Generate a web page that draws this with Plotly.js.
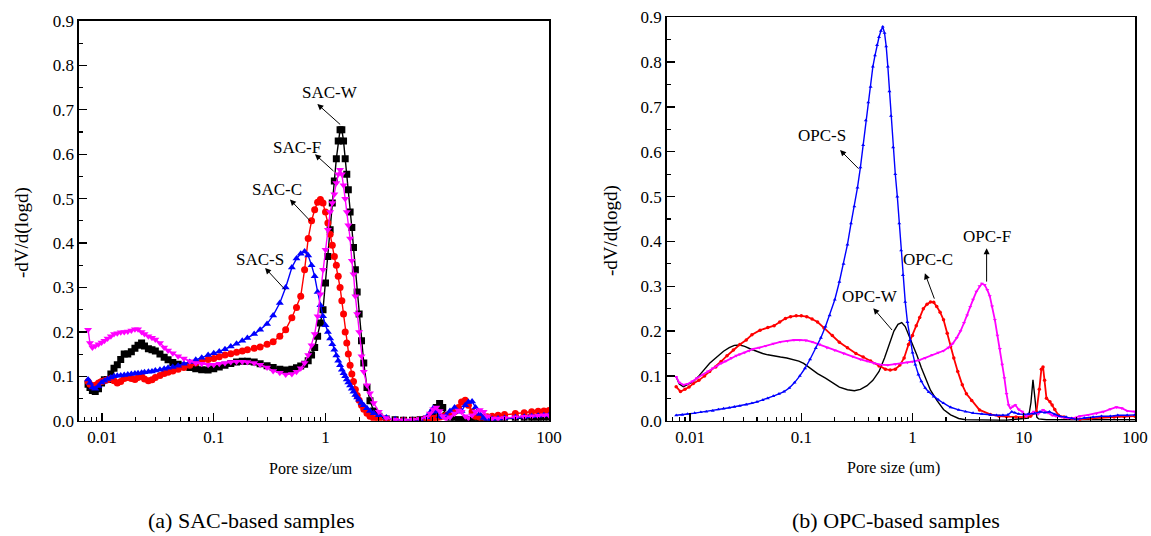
<!DOCTYPE html>
<html>
<head>
<meta charset="utf-8">
<script src="https://cdn.plot.ly/plotly-3.0.1.min.js"></script>
<style>html,body{margin:0;padding:0;background:#fff;}#chart{width:1151px;height:536px;}</style>
</head>
<body>
<div id="chart"></div>
<script>
// ---------- Panel (a): SAC-based samples (shared pore-size grid, um) ----------
const sacX = [
 0.0075,0.0078,0.0082,0.0087,0.0093,0.0099,0.0105,0.0112,0.012,0.0128,
 0.0137,0.0147,0.0158,0.017,0.0183,0.0197,0.021,0.0226,0.024,0.026,
 0.028,0.030,0.033,0.036,0.039,0.043,0.048,0.054,0.061,0.069,
 0.078,0.089,0.1,0.112,0.126,0.142,0.16,0.18,0.2,0.23,
 0.26,0.3,0.34,0.39,0.44,0.5,0.55,0.6,0.65,0.7,
 0.75,0.8,0.85,0.9,0.95,1.0,1.05,1.1,1.15,1.2,
 1.25,1.3,1.35,1.4,1.45,1.5,1.55,1.6,1.66,1.72,
 1.78,1.85,1.92,2.0,2.1,2.2,2.35,2.5,2.7,3.0,
 3.5,4.2,5,6,7,8,8.6,9.2,9.8,10.5,
 11.2,12,13,14.3,15.5,16.5,17.8,19,20.5,22,
 24,26,28,31,35,40,50,60,70,80,
 90,100];
const sacW = [
 0.082,0.075,0.068,0.066,0.072,0.085,0.092,0.093,0.105,0.118,
 0.126,0.138,0.15,0.15,0.155,0.163,0.17,0.175,0.168,0.162,
 0.16,0.157,0.15,0.143,0.137,0.131,0.127,0.123,0.12,0.117,
 0.115,0.114,0.117,0.121,0.125,0.129,0.132,0.134,0.134,0.132,
 0.128,0.124,0.12,0.116,0.114,0.116,0.119,0.123,0.127,0.135,
 0.148,0.165,0.19,0.22,0.25,0.31,0.37,0.43,0.49,0.54,
 0.59,0.63,0.655,0.655,0.63,0.59,0.555,0.52,0.47,0.435,
 0.39,0.34,0.29,0.24,0.18,0.13,0.075,0.045,0.022,0.01,
 0.004,0.002,0.001,0.001,0.002,0.004,0.008,0.018,0.03,0.039,
 0.03,0.012,0.004,0.002,0.002,0.002,0.002,0.002,0.002,0.003,
 0.003,0.003,0.003,0.004,0.004,0.005,0.005,0.006,0.007,0.007,
 0.008,0.008];
const sacC = [
 0.088,0.082,0.078,0.08,0.085,0.088,0.09,0.092,0.095,0.09,
 0.085,0.088,0.095,0.097,0.095,0.093,0.097,0.1,0.094,0.09,
 0.092,0.097,0.102,0.106,0.109,0.112,0.116,0.12,0.125,0.13,
 0.134,0.138,0.14,0.144,0.148,0.151,0.154,0.157,0.16,0.163,
 0.166,0.172,0.178,0.19,0.205,0.232,0.255,0.28,0.34,0.41,
 0.45,0.475,0.492,0.498,0.49,0.47,0.445,0.42,0.395,0.37,
 0.35,0.325,0.3,0.27,0.24,0.2,0.175,0.15,0.125,0.105,
 0.088,0.07,0.057,0.046,0.035,0.026,0.017,0.01,0.005,0.003,
 0.002,0.001,0.001,0.001,0.002,0.003,0.004,0.005,0.006,0.008,
 0.01,0.012,0.015,0.02,0.03,0.042,0.046,0.035,0.02,0.01,
 0.008,0.008,0.009,0.01,0.012,0.014,0.016,0.018,0.02,0.021,
 0.022,0.023];
const sacS = [
 0.093,0.085,0.075,0.072,0.078,0.086,0.09,0.094,0.097,0.1,
 0.101,0.102,0.103,0.104,0.105,0.106,0.107,0.108,0.109,0.11,
 0.111,0.113,0.115,0.117,0.119,0.121,0.124,0.128,0.132,0.137,
 0.142,0.148,0.152,0.156,0.161,0.167,0.173,0.18,0.186,0.195,
 0.205,0.218,0.237,0.265,0.3,0.345,0.365,0.376,0.381,0.372,
 0.35,0.325,0.29,0.26,0.235,0.215,0.2,0.185,0.172,0.16,
 0.147,0.135,0.125,0.115,0.107,0.1,0.093,0.086,0.079,0.072,
 0.065,0.058,0.052,0.047,0.04,0.035,0.028,0.022,0.017,0.012,
 0.007,0.003,0.002,0.002,0.003,0.008,0.018,0.028,0.02,0.01,
 0.008,0.012,0.022,0.03,0.02,0.022,0.035,0.042,0.043,0.03,
 0.015,0.006,0.004,0.004,0.005,0.006,0.008,0.009,0.01,0.011,
 0.012,0.012];
const sacF = [
 0.205,0.175,0.165,0.168,0.172,0.176,0.18,0.185,0.19,0.195,
 0.197,0.199,0.2,0.201,0.203,0.206,0.206,0.2,0.195,0.19,
 0.187,0.183,0.175,0.165,0.158,0.152,0.145,0.14,0.134,0.13,
 0.128,0.126,0.126,0.128,0.13,0.132,0.133,0.133,0.132,0.13,
 0.126,0.12,0.112,0.108,0.104,0.105,0.11,0.118,0.13,0.148,
 0.17,0.195,0.235,0.285,0.34,0.385,0.43,0.47,0.49,0.51,
 0.535,0.555,0.565,0.555,0.53,0.5,0.47,0.44,0.41,0.36,
 0.33,0.28,0.24,0.2,0.145,0.11,0.08,0.062,0.04,0.02,
 0.006,0.002,0.001,0.002,0.004,0.008,0.016,0.026,0.03,0.022,
 0.01,0.004,0.008,0.016,0.023,0.02,0.01,0.006,0.012,0.02,
 0.024,0.02,0.01,0.005,0.005,0.006,0.008,0.009,0.01,0.011,
 0.012,0.012];

// ---------- Panel (b): OPC-based samples ----------
const opcSx = [
 0.0075,0.0085,0.0095,0.011,0.0125,0.014,0.016,0.018,0.02,0.0225,
 0.025,0.028,0.032,0.036,0.04,0.045,0.05,0.056,0.063,0.07,
 0.078,0.087,0.097,0.108,0.12,0.135,0.15,0.165,0.18,0.2,
 0.22,0.24,0.26,0.28,0.3,0.32,0.34,0.36,0.38,0.4,
 0.42,0.44,0.46,0.48,0.5,0.52,0.54,0.56,0.58,0.6,
 0.62,0.64,0.67,0.7,0.73,0.76,0.79,0.82,0.86,0.9,
 0.95,1.0,1.06,1.13,1.2,1.3,1.4,1.55,1.7,1.9,
 2.2,2.6,3,3.5,4.2,5,5.7,6.5,7.2,7.8,
 8.3,9,10,11,12.5,14,15.5,17,19,21,
 24,27,30,35,42,50,60,70,85,100];
const opcSy = [
 0.012,0.013,0.015,0.017,0.019,0.02,0.022,0.025,0.027,0.029,
 0.031,0.033,0.036,0.039,0.042,0.046,0.05,0.055,0.06,0.065,
 0.073,0.085,0.1,0.117,0.137,0.162,0.185,0.21,0.235,0.27,
 0.31,0.35,0.393,0.44,0.478,0.52,0.565,0.615,0.67,0.71,
 0.745,0.79,0.815,0.838,0.856,0.87,0.879,0.865,0.835,0.79,
 0.735,0.68,0.61,0.55,0.5,0.44,0.38,0.325,0.265,0.22,
 0.18,0.152,0.125,0.103,0.088,0.073,0.064,0.054,0.047,0.039,
 0.03,0.024,0.02,0.017,0.015,0.013,0.012,0.012,0.013,0.02,
 0.018,0.015,0.014,0.015,0.016,0.02,0.018,0.02,0.014,0.01,
 0.008,0.005,0.003,0.006,0.008,0.01,0.01,0.012,0.012,0.013];
const opcWx = [
 0.0075,0.008,0.0087,0.0095,0.0107,0.012,0.0135,0.015,0.0165,0.018,
 0.02,0.0225,0.025,0.028,0.031,0.035,0.04,0.045,0.05,0.057,
 0.065,0.074,0.085,0.095,0.105,0.12,0.14,0.165,0.19,0.22,
 0.26,0.3,0.34,0.39,0.44,0.5,0.56,0.62,0.68,0.74,
 0.8,0.86,0.93,1.0,1.1,1.2,1.3,1.45,1.65,1.9,
 2.2,2.6,3,4,5,6,7,8,9,10,
 11,11.6,12.1,12.6,13.1,13.6,14.5,16,18,20,
 25,30,40,50,70,100];
const opcWy = [
 0.098,0.082,0.076,0.08,0.087,0.1,0.115,0.128,0.137,0.145,
 0.155,0.163,0.168,0.169,0.166,0.16,0.154,0.15,0.147,0.144,
 0.142,0.14,0.136,0.133,0.128,0.118,0.105,0.095,0.085,0.075,
 0.069,0.067,0.07,0.078,0.09,0.11,0.14,0.172,0.2,0.215,
 0.219,0.21,0.19,0.173,0.145,0.118,0.095,0.068,0.046,0.025,
 0.013,0.005,0.002,0.001,0.001,0.001,0.001,0.002,0.003,0.004,
 0.006,0.04,0.091,0.05,0.008,0.004,0.003,0.002,0.002,0.002,
 0.002,0.002,0.002,0.002,0.002,0.002];
const opcCx = [
 0.0075,0.0082,0.009,0.0098,0.0107,0.012,0.0135,0.015,0.017,0.019,
 0.0215,0.0245,0.028,0.032,0.036,0.0426,0.05,0.057,0.064,0.072,
 0.08,0.09,0.1,0.112,0.125,0.14,0.16,0.19,0.22,0.26,
 0.31,0.36,0.42,0.5,0.57,0.63,0.7,0.77,0.84,0.92,
 1.0,1.08,1.16,1.25,1.35,1.45,1.55,1.65,1.77,1.9,
 2.05,2.2,2.35,2.55,2.8,3.05,3.4,4,5,6,
 7,8.5,10,11.5,13,13.8,14.4,14.9,15.4,16,
 17.2,18,19,20.5,23,27,32,40,50,65,
 80,100];
const opcCy = [
 0.076,0.065,0.07,0.075,0.083,0.09,0.1,0.11,0.12,0.132,
 0.145,0.158,0.17,0.18,0.192,0.202,0.208,0.212,0.22,0.228,
 0.232,0.234,0.234,0.232,0.227,0.22,0.207,0.19,0.175,0.163,
 0.15,0.142,0.133,0.122,0.115,0.113,0.115,0.124,0.14,0.17,
 0.19,0.212,0.23,0.25,0.26,0.265,0.264,0.255,0.242,0.225,
 0.195,0.165,0.14,0.11,0.08,0.06,0.045,0.024,0.014,0.01,
 0.009,0.008,0.008,0.01,0.02,0.07,0.115,0.12,0.09,0.05,
 0.042,0.035,0.025,0.012,0.008,0.005,0.003,0.005,0.007,0.008,
 0.009,0.01];
const opcFx = [
 0.0075,0.008,0.0087,0.0095,0.0105,0.0115,0.013,0.0145,0.016,0.0175,
 0.019,0.021,0.0235,0.026,0.028,0.031,0.034,0.037,0.042,0.048,
 0.056,0.065,0.075,0.086,0.097,0.11,0.125,0.145,0.17,0.2,
 0.24,0.29,0.34,0.39,0.45,0.51,0.6,0.7,0.8,0.9,
 1.0,1.15,1.3,1.5,1.7,1.9,2.1,2.3,2.5,2.7,
 2.9,3.1,3.3,3.5,3.75,4.0,4.2,4.45,4.7,4.95,
 5.2,5.5,5.8,6.1,6.4,6.7,7.0,7.3,7.6,8.0,
 8.4,9,9.7,10.5,11.3,12.3,13.5,14.9,16.5,18,
 19.5,22,25,28,32,38,45,52,60,68,
 76,85,100];
const opcFy = [
 0.098,0.085,0.08,0.082,0.088,0.095,0.103,0.11,0.117,0.122,
 0.128,0.133,0.14,0.145,0.148,0.152,0.156,0.16,0.163,0.167,
 0.172,0.176,0.178,0.18,0.18,0.179,0.176,0.17,0.163,0.157,
 0.15,0.143,0.137,0.133,0.128,0.125,0.124,0.126,0.128,0.13,
 0.132,0.135,0.14,0.147,0.152,0.156,0.163,0.172,0.185,0.2,
 0.218,0.235,0.254,0.27,0.288,0.3,0.306,0.303,0.292,0.278,
 0.255,0.225,0.19,0.16,0.125,0.095,0.06,0.035,0.028,0.032,
 0.035,0.025,0.02,0.01,0.015,0.02,0.015,0.024,0.018,0.012,
 0.01,0.008,0.006,0.006,0.01,0.013,0.016,0.02,0.026,0.03,
 0.028,0.022,0.02];

// ---------- Axis ticks & texts ----------
const xTickVals = [0.01, 0.1, 1, 10, 100];
const xTickText = ['0.01', '0.1', '1', '10', '100'];
const yTickVals = [0, 0.1, 0.2, 0.3, 0.4, 0.5, 0.6, 0.7, 0.8, 0.9];
const yTickText = ['0.0', '0.1', '0.2', '0.3', '0.4', '0.5', '0.6', '0.7', '0.8', '0.9'];
const xTitleA = 'Pore size/um';
const xTitleB = 'Pore size (um)';
const yTitle = '-dV/d(logd)';
const captionA = '(a) SAC-based samples';
const captionB = '(b) OPC-based samples';

// series labels: [text, textX, textY, headX, headY, tailX, tailY] (x in um)
const labelsA = [
  ['SAC-W', 1.097, 0.740, 0.845, 0.713, 1.396, 0.664],
  ['SAC-F', 0.556, 0.615, 0.805, 0.600, 1.216, 0.559],
  ['SAC-C', 0.368, 0.521, 0.481, 0.498, 0.754, 0.446],
  ['SAC-S', 0.259, 0.363, 0.288, 0.344, 0.450, 0.291]
];
const labelsB = [
  ['OPC-S', 0.152, 0.637, 0.223, 0.604, 0.337, 0.559],
  ['OPC-W', 0.414, 0.277, 0.444, 0.251, 0.672, 0.199],
  ['OPC-C', 1.384, 0.359, 1.291, 0.329, 1.589, 0.269],
  ['OPC-F', 4.634, 0.411, 4.634, 0.385, 4.634, 0.307]
];

const FONT = 'Liberation Serif, Times New Roman, serif';
const BLACK = '#000000', RED = '#ff0000', BLUE = '#0000ff', MAG = '#ff00ff';

function sacTrace(y, color, symbol, name) {
  return {x: sacX, y: y, type: 'scatter', mode: 'lines+markers', name: name,
    xaxis: 'x', yaxis: 'y',
    line: {color: color, width: 1.4},
    marker: {color: color, symbol: symbol, size: 7, line: {width: 0}}};
}
function opcTrace(x, y, color, mode, symbol, name, lw) {
  return {x: x, y: y, type: 'scatter', mode: mode, name: name,
    xaxis: 'x2', yaxis: 'y2',
    line: {color: color, width: lw},
    marker: {color: color, symbol: symbol, size: 3.5, line: {width: 0}}};
}

const data = [
  sacTrace(sacW, BLACK, 'square', 'SAC-W'),
  sacTrace(sacC, RED, 'circle', 'SAC-C'),
  sacTrace(sacS, BLUE, 'triangle-up', 'SAC-S'),
  sacTrace(sacF, MAG, 'triangle-down', 'SAC-F'),
  opcTrace(opcWx, opcWy, BLACK, 'lines', 'circle', 'OPC-W', 1.4),
  opcTrace(opcCx, opcCy, RED, 'lines+markers', 'circle', 'OPC-C', 1.8),
  opcTrace(opcFx, opcFy, MAG, 'lines+markers', 'triangle-down', 'OPC-F', 1.8),
  opcTrace(opcSx, opcSy, BLUE, 'lines+markers', 'triangle-up', 'OPC-S', 1.4)
];

function xAxis(domain, anchor) {
  return {type: 'log', domain: domain, anchor: anchor, range: [-2.206, 2.0],
    tickmode: 'array', tickvals: xTickVals, ticktext: xTickText,
    ticks: 'inside', ticklen: 8, tickwidth: 1.3, tickcolor: BLACK,
    minor: {ticks: 'inside', ticklen: 4, tickwidth: 1.1, tickcolor: BLACK, dtick: 'D1', showgrid: false},
    showline: true, linecolor: BLACK, linewidth: 1.6, mirror: true,
    showgrid: false, zeroline: false,
    tickfont: {family: FONT, size: 17, color: BLACK}};
}
function yAxis(domain, anchor) {
  return {domain: domain, anchor: anchor, range: [0, 0.9],
    tickmode: 'array', tickvals: yTickVals, ticktext: yTickText,
    ticks: 'inside', ticklen: 8, tickwidth: 1.3, tickcolor: BLACK,
    minor: {ticks: 'inside', ticklen: 4, tickwidth: 1.1, tickcolor: BLACK, dtick: 0.05, showgrid: false},
    showline: true, linecolor: BLACK, linewidth: 1.6, mirror: true,
    showgrid: false, zeroline: false,
    tickfont: {family: FONT, size: 17, color: BLACK}};
}

const annotations = [];
function addLabels(list, xr, yr) {
  list.forEach(function (l) {
    annotations.push({xref: xr, yref: yr, x: Math.log10(l[1]), y: l[2], text: l[0],
      showarrow: false, font: {family: FONT, size: 17, color: BLACK}});
    annotations.push({xref: xr, yref: yr, x: Math.log10(l[3]), y: l[4],
      axref: xr, ayref: yr, ax: Math.log10(l[5]), ay: l[6], text: '',
      showarrow: true, arrowhead: 2, arrowsize: 1.2, arrowwidth: 1, arrowcolor: BLACK,
      standoff: 0, startstandoff: 0});
  });
}
addLabels(labelsA, 'x', 'y');
addLabels(labelsB, 'x2', 'y2');

function paperText(text, x, y, size, angle) {
  annotations.push({xref: 'paper', yref: 'paper', x: x, y: y, text: text,
    showarrow: false, xanchor: 'center', yanchor: 'middle', textangle: angle || 0,
    font: {family: FONT, size: size, color: BLACK}});
}
paperText(xTitleA, 311 / 1151, (536 - 468) / 536, 16);
paperText(xTitleB, 893 / 1151, (536 - 468) / 536, 16);
paperText(yTitle, 22 / 1151, (536 - 233) / 536, 19, -90);
paperText(yTitle, 611 / 1151, (536 - 231) / 536, 19, -90);
paperText(captionA, 251 / 1151, (536 - 520) / 536, 22);
paperText(captionB, 896 / 1151, (536 - 520) / 536, 22);

const layout = {
  width: 1151, height: 536,
  margin: {l: 0, r: 0, t: 0, b: 0},
  paper_bgcolor: '#ffffff', plot_bgcolor: '#ffffff',
  showlegend: false,
  font: {family: FONT, color: BLACK},
  xaxis: xAxis([79 / 1151, 549 / 1151], 'y'),
  yaxis: yAxis([(536 - 420.7) / 536, (536 - 21) / 536], 'x'),
  xaxis2: Object.assign(xAxis([666.7 / 1151, 1135 / 1151], 'y2'), {range: [-2.21, 2.0]}),
  yaxis2: yAxis([(536 - 420.7) / 536, (536 - 17.3) / 536], 'x2'),
  annotations: annotations
};

Plotly.newPlot('chart', data, layout, {displayModeBar: false, staticPlot: true});
</script>
</body>
</html>
